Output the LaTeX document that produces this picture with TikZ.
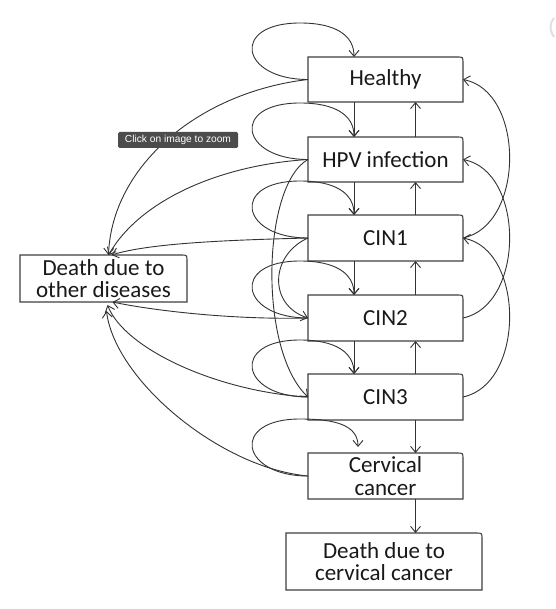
\documentclass[tikz,border=0pt]{standalone}
\usepackage{fontspec}
\setmainfont{Carlito}
\newfontfamily\tipfont{Liberation Sans}
\usetikzlibrary{arrows.meta,calc}
\tikzset{
  boxline/.style={draw=black!75, line width=1.1pt},
  stnode/.style={inner sep=0pt, outer sep=0pt, align=center, text=black!90,
                 font=\fontsize{23}{22.5}\selectfont},
  arr/.style={-{Straight Barb[length=6pt,width=10pt]}, draw=black!80, line width=0.9pt},
  tipbox/.style={fill=black!72!red!8!white, fill=black!70, rounded corners=1.5pt, inner sep=0pt,
                 text=white, font=\tipfont\fontsize{10.2}{11}\selectfont},
}
% #1 name, #2 x1, #3 y1, #4 x2, #5 y2, #6 text
\newcommand{\statebox}[6]{%
  \node[stnode, minimum width={#4-#2}, minimum height={#5-#3}] (#1)
     at ({(#2+#4)/2},{(#3+#5)/2}) {#6};
  \draw[boxline] (#1.south west) -- (#1.north west) -- ([xshift=-6pt]#1.north east)
     .. controls (#1.north east) .. ([yshift=-6pt]#1.north east) -- (#1.south east) -- cycle;
}
% #1 node, #2 named end coordinate
\newcommand{\selfloop}[2]{%
  \draw[arr] (#1.west) .. controls ($(#1.west)+(-68,0)$) and ($(#1.north west)+(-78,-34)$)
     .. ($(#1.north west)+(-8,-34)$) .. controls ($(#1.north west)+(27,-34)$) and ($(#2)+(0,-22)$)
     .. (#2);
}
\begin{document}
\begin{tikzpicture}[x=1pt,y=-1pt]
\useasboundingbox (0,0) rectangle (555,609);
\fill[white] (0,0) rectangle (555,609);

% boxes
\statebox{H}{308}{57}{463}{102}{Healthy}
\statebox{HPV}{308}{137}{463}{182}{HPV infection}
\statebox{C1}{308}{215}{463}{261}{CIN1}
\statebox{C2}{308}{295}{463}{341}{CIN2}
\statebox{C3}{308}{374}{463}{420}{CIN3}
\statebox{CC}{308}{453}{463}{499}{Cervical\\cancer}
\statebox{DC}{286}{533}{482}{590}{Death due to\\cervical cancer}
\statebox{DO}{20}{255}{187}{302}{Death due to\\other diseases}

% column positions
\coordinate (dl) at (354,0);
\coordinate (ul) at (415.5,0);

% downward progressions
\draw[arr] (H.south -| dl) -- (HPV.north -| dl);
\draw[arr] (HPV.south -| dl) -- (C1.north -| dl);
\draw[arr] (C1.south -| dl) -- (C2.north -| dl);
\draw[arr] (C2.south -| dl) -- (C3.north -| dl);
\draw[arr] (C3.south -| ul) -- (CC.north -| ul);
\draw[arr] (CC.south -| ul) -- (DC.north -| ul);

% upward regressions
\draw[arr] (HPV.north -| ul) -- (H.south -| ul);
\draw[arr] (C1.north -| ul) -- (HPV.south -| ul);
\draw[arr] (C2.north -| ul) -- (C1.south -| ul);
\draw[arr] (C3.north -| ul) -- (C2.south -| ul);

% self loops
\coordinate (Hin) at (H.north -| dl);
\coordinate (HPVin) at (HPV.north -| dl);
\coordinate (C1in) at (C1.north -| dl);
\coordinate (C2in) at (C2.north -| dl);
\coordinate (C3in) at (C3.north -| dl);
\coordinate (CCin) at ($(CC.north -| dl)+(4,-6)$);
\selfloop{H}{Hin}
\selfloop{HPV}{HPVin}
\selfloop{C1}{C1in}
\selfloop{C2}{C2in}
\selfloop{C3}{C3in}
\selfloop{CC}{CCin}

% right-side skip regressions
\draw[arr] (C1.east) .. controls +(62,-13) and +(62,12) .. (H.east);
\draw[arr] (C2.east) .. controls +(62,-13) and +(62,12) .. (HPV.east);
\draw[arr] (C3.east) .. controls +(62,-13) and +(62,12) .. (C1.east);

% left-side skip progressions
\draw[arr] (HPV.west) .. controls (262,185) and (258,350) .. (C3.west);
\draw[arr] (C1.west) .. controls (270,255) and (268,305) .. (C2.west);

% to death due to other diseases
\coordinate (DOt1) at ($(DO.north)+(5,0)$);
\coordinate (DOt2) at ($(DO.north)+(8,0)$);
\coordinate (DOb1) at ($(DO.south)+(9,0)$);
\coordinate (DOb2) at ($(DO.south)+(4,3)$);
\coordinate (DOb3) at ($(DO.south)+(3,9)$);
\draw[arr] (H.west) .. controls (200,92) and (112,165) .. (DOt1);
\draw[arr] (HPV.west) .. controls (220,165) and (140,200) .. (DOt1);
\draw[arr] (C1.west) .. controls (230,240) and (150,243) .. (DOt2);
\draw[arr] (C2.west) .. controls (230,320) and (150,310) .. (DOb1);
\draw[arr] (C3.west) .. controls (220,392) and (125,350) .. (DOb2);
\draw[arr] (CC.west) .. controls (220,468) and (115,380) .. (DOb3);

% viewer tooltip overlay
\node[tipbox, minimum width=120pt, minimum height=16pt] (tip) at (178,140) {Click on image to zoom};

% faint edge artifact
\draw[black!12, line width=2pt] (554,37) .. controls (549,30) and (550,22) .. (554,18);
\end{tikzpicture}
\end{document}
